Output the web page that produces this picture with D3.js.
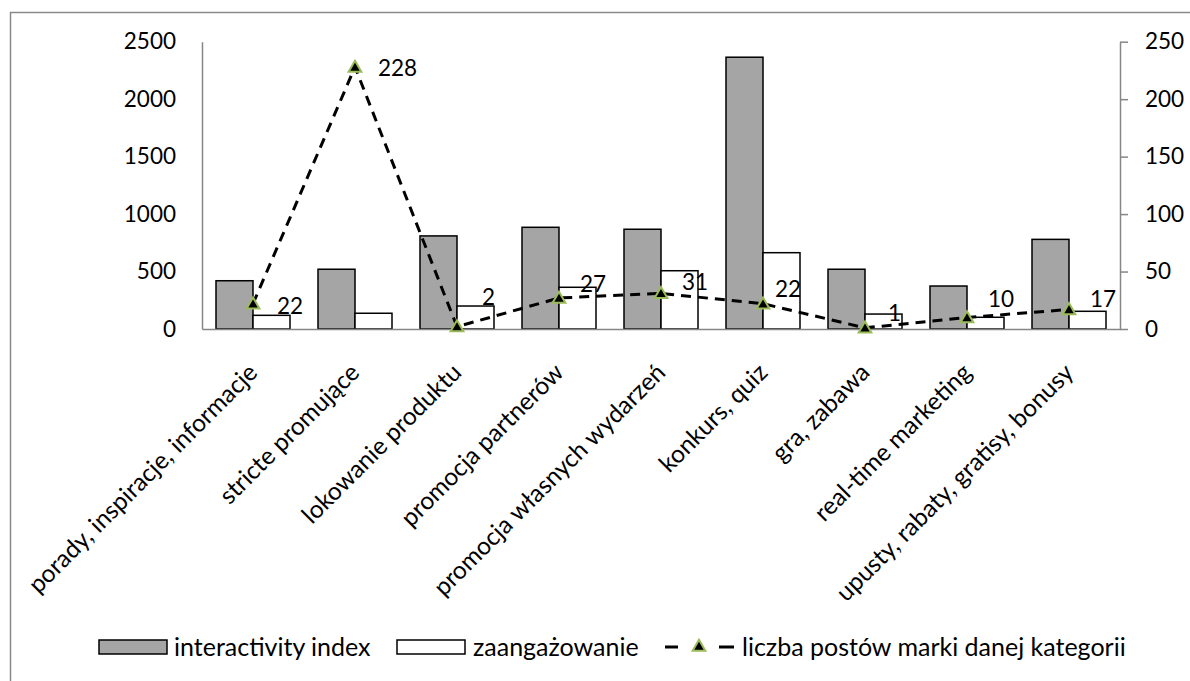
<!DOCTYPE html>
<html>
<head>
<meta charset="utf-8">
<script src="https://cdn.jsdelivr.net/npm/d3@7"></script>
<style>
  html, body { margin: 0; padding: 0; background: #fff; }
  svg { display: block; }
  text { font-family: Lato, "Open Sans", sans-serif; fill: #000; }
</style>
</head>
<body>
<svg id="chart" width="1190" height="681"></svg>
<script>
// Post categories
const categories = [
  "porady, inspiracje, informacje",
  "stricte promujące",
  "lokowanie produktu",
  "promocja partnerów",
  "promocja własnych wydarzeń",
  "konkurs, quiz",
  "gra, zabawa",
  "real-time marketing",
  "upusty, rabaty, gratisy, bonusy"
];
// Bar series (left axis)
const interactivityIndex = [420, 520, 810, 885, 868, 2365, 520, 374, 780];
const zaangazowanie      = [119, 137, 200, 363, 507, 664, 130, 102, 154];
// Line series (right axis)
const liczbaPostow = [22, 228, 2, 27, 31, 22, 1, 10, 17];
// Axis ticks
const leftTicks  = [0, 500, 1000, 1500, 2000, 2500];
const rightTicks = [0, 50, 100, 150, 200, 250];

const seriesNames = ["interactivity index", "zaangażowanie", "liczba postów marki danej kategorii"];

// Hand-placed nudges for the line's value labels (px from each marker)
const labelNudgeX = [24, 23, 25, 21, 21, 12, 23, 21, 21];
const labelNudgeY = [2, 1, -30, -14, -11, -15, -15, -19, -11];

const svg = d3.select("#chart");
const W = 1190, H = 681;
const plot = { left: 202, right: 1120, top: 41.7, bottom: 329 };
const TEXT_FONT = 25;   // legend text
const CAT_FONT = 24.5;  // category labels
const NUM_FONT = 22.5;  // tick and data labels
const axisGrey = "#868686";
const barGrey = "#a5a5a5";
const markerGreen = "#9bbb59";

// Chart frame (only the top and left edges fall inside the view)
svg.append("path")
  .attr("d", `M10.5,${H} L10.5,12.5 L${W},12.5`)
  .attr("fill", "none").attr("stroke", "#8a8a8a").attr("stroke-width", 1.5);

const p = 28 / 102;
const x0 = d3.scaleBand().domain(d3.range(categories.length))
  .range([plot.left, plot.right]).paddingInner(p).paddingOuter(p / 2);
const x1 = d3.scaleBand().domain([0, 1]).range([0, x0.bandwidth()]);
const yL = d3.scaleLinear().domain([0, 2500]).range([plot.bottom, plot.top]);
const yR = d3.scaleLinear().domain([0, 250]).range([plot.bottom, plot.top]);
const cx = i => x0(i) + x0.bandwidth() / 2;

// Bars
const barSeries = [
  { values: interactivityIndex, fill: barGrey },
  { values: zaangazowanie, fill: "#ffffff" }
];
barSeries.forEach((s, k) => {
  svg.append("g").selectAll("rect").data(s.values).join("rect")
    .attr("x", (d, i) => x0(i) + x1(k))
    .attr("y", d => yL(d))
    .attr("width", x1.bandwidth())
    .attr("height", d => yL(0) - yL(d))
    .attr("fill", s.fill)
    .attr("stroke", "#000").attr("stroke-width", 1.5);
});

// Left axis: line and labels, no tick marks
const gL = svg.append("g").attr("transform", `translate(${plot.left},0)`)
  .call(d3.axisLeft(yL).tickValues(leftTicks).tickFormat(d3.format("d")).tickSize(0).tickPadding(26));
gL.select(".domain").attr("stroke", axisGrey).attr("stroke-width", 1.5);
gL.selectAll("text").style("font-size", NUM_FONT + "px").style("font-family", "Lato");

// Right axis: outside ticks
const gR = svg.append("g").attr("transform", `translate(${plot.right},0)`)
  .call(d3.axisRight(yR).tickValues(rightTicks).tickFormat(d3.format("d"))
    .tickSizeOuter(0).tickSizeInner(8).tickPadding(17));
gR.select(".domain").attr("stroke", axisGrey).attr("stroke-width", 1.5);
gR.selectAll(".tick line").attr("stroke", axisGrey).attr("stroke-width", 1.5);
gR.selectAll("text").style("font-size", NUM_FONT + "px").style("font-family", "Lato");

// Category axis
const gX = svg.append("g").attr("transform", `translate(0,${plot.bottom})`)
  .call(d3.axisBottom(x0).tickSize(0).tickFormat(() => ""));
gX.select(".domain").attr("stroke", axisGrey).attr("stroke-width", 1.5);

svg.append("g").selectAll("text").data(categories).join("text")
  .attr("transform", (d, i) => `translate(${cx(i) + 6},${plot.bottom + 45}) rotate(-45)`)
  .attr("text-anchor", "end")
  .style("font-size", CAT_FONT + "px")
  .text(d => d);

// Line series
const line = d3.line().x((d, i) => cx(i)).y(d => yR(d));
svg.append("path").datum(liczbaPostow)
  .attr("d", line)
  .attr("fill", "none").attr("stroke", "#000")
  .attr("stroke-width", 3).attr("stroke-dasharray", "10,7");

const tri = d3.symbol().type(d3.symbolTriangle).size(70);
svg.append("g").selectAll("path").data(liczbaPostow).join("path")
  .attr("d", tri)
  .attr("transform", (d, i) => `translate(${cx(i)},${yR(d) + 1})`)
  .attr("fill", "#000").attr("stroke", markerGreen).attr("stroke-width", 2);

// Data labels
svg.append("g").selectAll("text").data(liczbaPostow).join("text")
  .attr("x", (d, i) => cx(i) + labelNudgeX[i])
  .attr("y", (d, i) => yR(d) + labelNudgeY[i])
  .attr("dy", "0.36em")
  .style("font-size", NUM_FONT + "px")
  .text(d => d);

// Legend
const legY = 647;
const leg = svg.append("g");
leg.append("rect").attr("x", 99).attr("y", legY - 7).attr("width", 68).attr("height", 14)
  .attr("fill", barGrey).attr("stroke", "#000").attr("stroke-width", 1.5);
leg.append("text").attr("x", 174).attr("y", legY).attr("dy", "0.36em")
  .style("font-size", TEXT_FONT + "px").text(seriesNames[0]);
leg.append("rect").attr("x", 397).attr("y", legY - 7).attr("width", 68).attr("height", 14)
  .attr("fill", "#fff").attr("stroke", "#000").attr("stroke-width", 1.5);
leg.append("text").attr("x", 473).attr("y", legY).attr("dy", "0.36em")
  .style("font-size", TEXT_FONT + "px").text(seriesNames[1]);
leg.append("line").attr("x1", 665).attr("x2", 734).attr("y1", legY).attr("y2", legY)
  .attr("stroke", "#000").attr("stroke-width", 3).attr("stroke-dasharray", "13,41,15");
leg.append("path").attr("d", tri).attr("transform", `translate(699,${legY})`)
  .attr("fill", "#000").attr("stroke", markerGreen).attr("stroke-width", 2);
leg.append("text").attr("x", 742).attr("y", legY).attr("dy", "0.36em")
  .style("font-size", TEXT_FONT + "px").text(seriesNames[2]);
</script>
</body>
</html>
